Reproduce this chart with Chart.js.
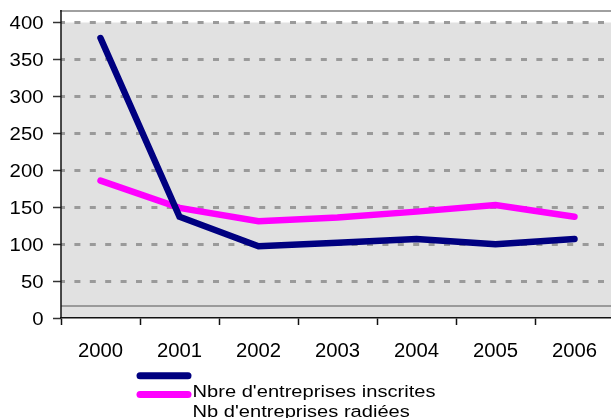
<!DOCTYPE html>
<html>
<head>
<meta charset="utf-8">
<script src="https://cdn.jsdelivr.net/npm/chart.js@4.4.1/dist/chart.umd.min.js"></script>
<style>
  html, body { margin: 0; padding: 0; background: #fff; overflow: hidden; width: 611px; height: 418px; }
  #wrap { width: 614px; height: 418px; }
</style>
</head>
<body>
<div id="wrap"><canvas id="c" width="614" height="418"></canvas></div>
<script>
// Années et séries
const years = ['2000', '2001', '2002', '2003', '2004', '2005', '2006'];
const inscrites = [379, 137, 97, 102, 107, 100, 107];
const radiees = [186, 149, 131, 136, 144, 153, 137];
const seriesLabels = ["Nbre d'entreprises inscrites", "Nb d'entreprises radiées"];
const yMin = 0, yMax = 400, yStep = 50;

const FONT = "'Liberation Sans', Arial, sans-serif";

// Texte légèrement élargi horizontalement
function wideText(ctx, text, x, y, align, size, sx) {
  ctx.save();
  ctx.font = size + 'px ' + FONT;
  ctx.fillStyle = '#000';
  ctx.textBaseline = 'alphabetic';
  ctx.translate(x, y);
  ctx.scale(sx, 1);
  ctx.textAlign = align;
  ctx.fillText(text, 0, 0);
  ctx.restore();
}

const frame = {
  id: 'frame',
  beforeDraw(chart) {
    const { ctx, chartArea: a } = chart;
    ctx.save();
    ctx.fillStyle = '#e1e1e1';
    ctx.fillRect(a.left, a.top, a.right - a.left, a.bottom - a.top);
    // trait gris bas de la zone de tracé
    ctx.strokeStyle = '#9a9a9a';
    ctx.lineWidth = 2;
    ctx.beginPath();
    ctx.moveTo(a.left, a.bottom - 12);
    ctx.lineTo(a.right, a.bottom - 12);
    ctx.stroke();
    ctx.restore();
  },
  afterDraw(chart) {
    const { ctx, chartArea: a, scales } = chart;
    ctx.save();
    // cadre supérieur
    ctx.strokeStyle = '#a0a0a0';
    ctx.lineWidth = 2;
    ctx.beginPath();
    ctx.moveTo(a.left - 1, a.top - 11.5);
    ctx.lineTo(a.right, a.top - 11.5);
    ctx.stroke();
    // axe vertical
    ctx.strokeStyle = '#111';
    ctx.lineWidth = 1.5;
    ctx.beginPath();
    ctx.moveTo(a.left, a.top - 12.5);
    ctx.lineTo(a.left, a.bottom);
    ctx.stroke();
    ctx.restore();

    // étiquettes de l'axe Y
    const y = scales.y;
    y.ticks.forEach((t, i) => {
      wideText(ctx, String(t.value), a.left - 17.5, y.getPixelForTick(i) + 6.8, 'right', 17.7, 1.15);
    });
    // étiquettes de l'axe X
    const x = scales.x;
    x.ticks.forEach((t, i) => {
      const px = x.getPixelForValue(t.value);
      wideText(ctx, x.getLabelForValue(t.value), px, a.bottom + 38.5, 'center', 19.5, 1.04);
    });

    // légende
    const lx0 = a.left + 79, lx1 = a.left + 127;
    const rows = [375.8, 394.5];
    chart.data.datasets.forEach((ds, i) => {
      ctx.save();
      ctx.strokeStyle = ds.borderColor;
      ctx.lineWidth = 7;
      ctx.lineCap = 'round';
      ctx.beginPath();
      ctx.moveTo(lx0, rows[i]);
      ctx.lineTo(lx1, rows[i]);
      ctx.stroke();
      ctx.restore();
    });
    chart.data.datasets.forEach((ds, i) => {
      wideText(ctx, ds.label, lx1 + 4.5, 397 + i * 20, 'left', 17.2, 1.17);
    });
  }
};

new Chart(document.getElementById('c'), {
  type: 'line',
  data: {
    labels: years,
    datasets: [
      {
        label: seriesLabels[0],
        data: inscrites,
        borderColor: '#000080',
        backgroundColor: '#000080',
        borderWidth: 6.5,
        borderCapStyle: 'round',
        borderJoinStyle: 'miter',
        pointRadius: 0,
        tension: 0
      },
      {
        label: seriesLabels[1],
        data: radiees,
        borderColor: '#ff00ff',
        backgroundColor: '#ff00ff',
        borderWidth: 6.5,
        borderCapStyle: 'round',
        borderJoinStyle: 'miter',
        pointRadius: 0,
        tension: 0
      }
    ]
  },
  options: {
    responsive: false,
    animation: false,
    devicePixelRatio: 1,
    layout: { padding: { top: 22.5, left: 0, right: 0, bottom: 0 } },
    plugins: { legend: { display: false }, tooltip: { enabled: false } },
    scales: {
      x: {
        type: 'category',
        offset: true,
        grid: {
          offset: true,
          drawOnChartArea: false,
          drawTicks: true,
          tickLength: 7,
          tickColor: '#111',
          tickWidth: 1.5
        },
        border: { display: true, color: '#111', width: 1.5 },
        ticks: { display: false },
        afterFit(s) { s.height = 100; }
      },
      y: {
        min: yMin,
        max: yMax,
        ticks: { display: false, stepSize: yStep },
        grid: {
          color: ctx => (ctx.tick && ctx.tick.value === 0) ? 'rgba(0,0,0,0)' : '#9a9a9a',
          lineWidth: 3,
          tickLength: 8,
          tickColor: '#333',
          tickWidth: 1.5,
          borderDash: [6, 9.4]
        },
        border: { display: false, dash: [6, 9.4], dashOffset: 2 },
        afterFit(s) { s.width = 61; }
      }
    }
  },
  plugins: [frame]
});
</script>
</body>
</html>
